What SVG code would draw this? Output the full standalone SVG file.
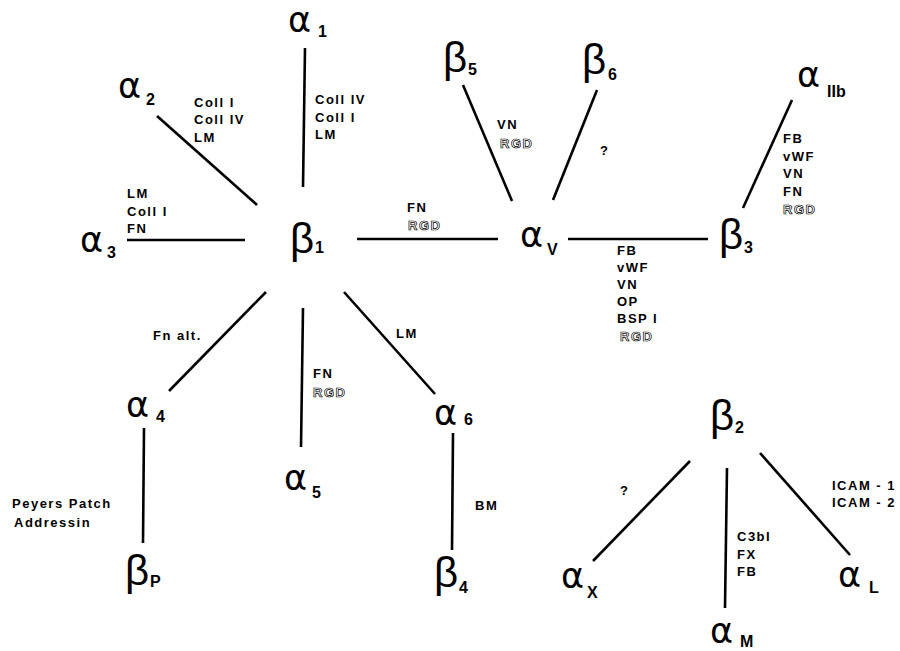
<svg xmlns="http://www.w3.org/2000/svg" width="900" height="651" viewBox="0 0 900 651">
<style>
.g{fill:#000}
.a{font-family:"DejaVu Sans","Liberation Sans",sans-serif;font-size:35px}
.b{font-family:"Liberation Sans","Arial",sans-serif;font-size:42px}
.s{font-family:"Liberation Sans","Arial",sans-serif;font-weight:bold;font-size:16px;fill:#000}
.l{font-family:"Liberation Sans","Arial",sans-serif;font-weight:bold;font-size:13px;letter-spacing:1.5px;fill:#000}
.r{fill:#fff;stroke:#000;stroke-width:0.7px}
.e{stroke:#000;stroke-width:2.6;stroke-linecap:butt;fill:none}
</style>
<rect width="900" height="651" fill="#fff"/>
<g id="connectors" class="e">
<line x1="305" y1="48" x2="303" y2="187"/>
<line x1="157" y1="116" x2="257" y2="205"/>
<line x1="127" y1="240" x2="245" y2="240"/>
<line x1="357" y1="239" x2="498" y2="239"/>
<line x1="463" y1="85" x2="512" y2="201"/>
<line x1="597" y1="90" x2="553" y2="200"/>
<line x1="568" y1="239" x2="708" y2="239"/>
<line x1="792" y1="100" x2="743" y2="208"/>
<line x1="266" y1="292" x2="169" y2="391"/>
<line x1="303" y1="308" x2="301" y2="447"/>
<line x1="344" y1="292" x2="435" y2="394"/>
<line x1="144" y1="428" x2="143" y2="543"/>
<line x1="453" y1="433" x2="452" y2="550"/>
<line x1="690" y1="461" x2="593" y2="561"/>
<line x1="727" y1="468" x2="725" y2="608"/>
<line x1="760" y1="453" x2="850" y2="555"/>
</g>
<g id="labels">
<text class="l" x="194" y="107">Coll I</text>
<text class="l" x="194" y="124">Coll IV</text>
<text class="l" x="194" y="142">LM</text>
<text class="l" x="315" y="104">Coll IV</text>
<text class="l" x="315" y="122">Coll I</text>
<text class="l" x="315" y="139">LM</text>
<text class="l" x="127" y="198">LM</text>
<text class="l" x="127" y="216">Coll I</text>
<text class="l" x="127" y="233">FN</text>
<text class="l" x="407" y="212">FN</text>
<text class="l r" x="408" y="230">RGD</text>
<text class="l" x="497" y="129">VN</text>
<text class="l r" x="500" y="148">RGD</text>
<text class="l" x="600" y="155">?</text>
<text class="l" x="783" y="143">FB</text>
<text class="l" x="783" y="161">vWF</text>
<text class="l" x="783" y="178">VN</text>
<text class="l" x="783" y="196">FN</text>
<text class="l r" x="783" y="214">RGD</text>
<text class="l" x="617" y="255">FB</text>
<text class="l" x="617" y="272">vWF</text>
<text class="l" x="617" y="289">VN</text>
<text class="l" x="617" y="306">OP</text>
<text class="l" x="617" y="323">BSP I</text>
<text class="l r" x="620" y="341">RGD</text>
<text class="l" x="153" y="340">Fn alt.</text>
<text class="l" x="313" y="378">FN</text>
<text class="l r" x="313" y="397">RGD</text>
<text class="l" x="396" y="338">LM</text>
<text class="l" x="12" y="508">Peyers Patch</text>
<text class="l" x="14" y="527">Addressin</text>
<text class="l" x="475" y="510">BM</text>
<text class="l" x="620" y="495">?</text>
<text class="l" x="832" y="490">ICAM - 1</text>
<text class="l" x="832" y="507">ICAM - 2</text>
<text class="l" x="737" y="541">C3bI</text>
<text class="l" x="737" y="559">FX</text>
<text class="l" x="737" y="576">FB</text>
</g>
<g id="alpha1"><text class="g a" x="288" y="32">α</text><text class="s" x="318" y="37">1</text></g>
<g id="alpha2"><text class="g a" x="118" y="98">α</text><text class="s" x="146" y="105">2</text></g>
<g id="alpha3"><text class="g a" x="80" y="252">α</text><text class="s" x="107" y="258">3</text></g>
<g id="beta1"><text class="g b" x="290" y="253">β</text><text class="s" x="315" y="253">1</text></g>
<g id="alphaV"><text class="g a" x="520" y="247">α</text><text class="s" x="547" y="255">V</text></g>
<g id="beta5"><text class="g b" x="443" y="72">β</text><text class="s" x="468" y="75">5</text></g>
<g id="beta6"><text class="g b" x="582" y="74">β</text><text class="s" x="608" y="80">6</text></g>
<g id="alphaIIb"><text class="g a" x="797" y="87">α</text><text class="s" x="827" y="97">IIb</text></g>
<g id="beta3"><text class="g b" x="719" y="249">β</text><text class="s" x="744" y="253">3</text></g>
<g id="alpha4"><text class="g a" x="126" y="417">α</text><text class="s" x="156" y="422">4</text></g>
<g id="alpha5"><text class="g a" x="284" y="490">α</text><text class="s" x="312" y="498">5</text></g>
<g id="alpha6"><text class="g a" x="434" y="425">α</text><text class="s" x="464" y="425">6</text></g>
<g id="betaP"><text class="g b" x="125" y="585">β</text><text class="s" x="150" y="587">P</text></g>
<g id="beta4"><text class="g b" x="434" y="587">β</text><text class="s" x="459" y="593">4</text></g>
<g id="beta2"><text class="g b" x="710" y="430">β</text><text class="s" x="735" y="433">2</text></g>
<g id="alphaX"><text class="g a" x="561" y="588">α</text><text class="s" x="587" y="598">X</text></g>
<g id="alphaM"><text class="g a" x="710" y="643">α</text><text class="s" x="740" y="647">M</text></g>
<g id="alphaL"><text class="g a" x="838" y="587">α</text><text class="s" x="869" y="593">L</text></g>
</svg>
